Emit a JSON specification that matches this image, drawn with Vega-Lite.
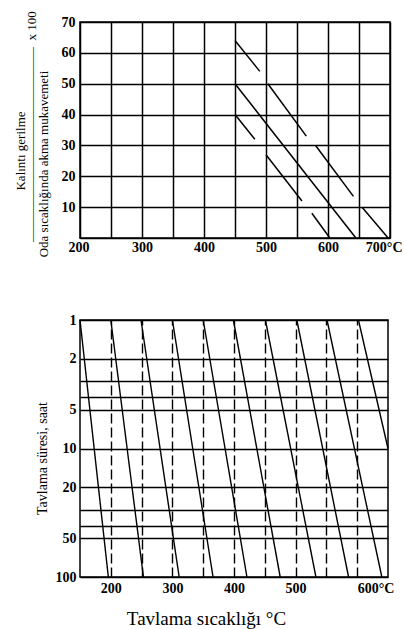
{
  "$schema": "https://vega.github.io/schema/vega-lite/v6.json",
  "background": "white",
  "autosize": {"type": "none"},
  "padding": {"left": 80, "top": 22, "right": 324, "bottom": 607},
  "bounds": "flush",
  "spacing": 82,
  "config": {
    "font": "Liberation Serif",
    "view": {"stroke": "black", "strokeWidth": 1.5},
    "axis": {
      "labelFont": "Liberation Serif",
      "labelFontSize": 14,
      "labelFontWeight": "bold",
      "labelColor": "black",
      "titleColor": "black",
      "titleFont": "Liberation Serif",
      "titleFontWeight": "normal",
      "gridColor": "black",
      "gridOpacity": 1,
      "ticks": false,
      "domain": false,
      "labelOverlap": false
    }
  },
  "datasets": {
    "stress": [
      {"line": "A", "temp": 450, "value": 64},
      {"line": "A", "temp": 490, "value": 54},
      {"line": "B", "temp": 450, "value": 50},
      {"line": "B", "temp": 645, "value": 0},
      {"line": "C", "temp": 503, "value": 50},
      {"line": "C", "temp": 565, "value": 33},
      {"line": "D", "temp": 450, "value": 40},
      {"line": "D", "temp": 482, "value": 32},
      {"line": "E", "temp": 500, "value": 27},
      {"line": "E", "temp": 558, "value": 12},
      {"line": "F", "temp": 580, "value": 30},
      {"line": "F", "temp": 641, "value": 13.5},
      {"line": "G", "temp": 574, "value": 8},
      {"line": "G", "temp": 603, "value": 0},
      {"line": "H", "temp": 655, "value": 10},
      {"line": "H", "temp": 697, "value": 0}
    ],
    "anneal": [
      {"curve": 1, "temp": 150, "hours": 1},
      {"curve": 1, "temp": 196, "hours": 100},
      {"curve": 2, "temp": 200, "hours": 1},
      {"curve": 2, "temp": 253, "hours": 100},
      {"curve": 3, "temp": 249, "hours": 1},
      {"curve": 3, "temp": 311, "hours": 100},
      {"curve": 4, "temp": 300, "hours": 1},
      {"curve": 4, "temp": 366, "hours": 100},
      {"curve": 5, "temp": 350, "hours": 1},
      {"curve": 5, "temp": 421, "hours": 100},
      {"curve": 6, "temp": 399, "hours": 1},
      {"curve": 6, "temp": 475, "hours": 100},
      {"curve": 7, "temp": 451, "hours": 1},
      {"curve": 7, "temp": 533, "hours": 100},
      {"curve": 8, "temp": 502, "hours": 1},
      {"curve": 8, "temp": 586, "hours": 100},
      {"curve": 9, "temp": 551, "hours": 1},
      {"curve": 9, "temp": 640, "hours": 100},
      {"curve": 10, "temp": 602, "hours": 1},
      {"curve": 10, "temp": 650, "hours": 10}
    ]
  },
  "vconcat": [
    {
      "width": 310,
      "height": 216,
      "data": {"name": "stress"},
      "mark": {"type": "line", "color": "black", "strokeWidth": 1.5},
      "encoding": {
        "x": {
          "field": "temp", "type": "quantitative",
          "scale": {"domain": [200, 700], "nice": false, "zero": false},
          "axis": {
            "values": [200, 250, 300, 350, 400, 450, 500, 550, 600, 650, 700],
            "labelExpr": "datum.value % 100 == 0 ? (datum.value == 700 ? '700°C' : datum.label) : ''",
            "labelFlush": true,
            "labelFlushOffset": 12,
            "labelPadding": 2,
            "gridWidth": 1.5,
            "title": null
          }
        },
        "y": {
          "field": "value", "type": "quantitative",
          "scale": {"domain": [0, 70], "nice": false},
          "axis": {
            "values": [0, 10, 20, 30, 40, 50, 60, 70],
            "labelExpr": "datum.value == 0 ? '' : datum.label",
            "labelPadding": 5,
            "labelFlush": false,
            "gridWidth": 1.5,
            "title": [
              "\u200b\u00a0\u00a0\u00a0\u00a0Kalıntı gerilme",
              "\u200b\u00a0\u00a0\u00a0\u00a0\u00a0\u00a0\u00a0\u00a0\u00a0\u00a0\u00a0\u00a0\u00a0\u00a0\u00a0\u00a0\u00a0\u00a0\u00a0———————————————\u00a0\u00a0x 100",
              "Oda sıcaklığında akma mukavemeti\u00a0\u00a0\u00a0\u00a0\u200b"
            ],
            "titleFontSize": 13,
            "titleLineHeight": 11.5,
            "titleAngle": -90,
            "titleAlign": "center",
            "titleBaseline": "alphabetic",
            "titleX": -56,
            "titleY": 135
          }
        },
        "detail": {"field": "line", "type": "nominal"}
      }
    },
    {
      "width": 308,
      "height": 257,
      "data": {"name": "anneal"},
      "mark": {"type": "line", "color": "black", "strokeWidth": 1.4},
      "encoding": {
        "x": {
          "field": "temp", "type": "quantitative",
          "scale": {"domain": [150, 650], "nice": false, "zero": false},
          "axis": {
            "values": [200, 250, 300, 350, 400, 450, 500, 550, 600],
            "labelExpr": "datum.value % 100 == 0 ? (datum.value == 600 ? '600°C' : datum.label) : ''",
            "labelFlush": false,
            "labelAlign": {"condition": {"test": "datum.value == 600", "value": "left"}, "value": "center"},
            "labelPadding": 4,
            "gridWidth": 1.4,
            "gridDash": [10, 4],
            "title": "Tavlama sıcaklığı °C",
            "titleFontSize": 19,
            "titleAngle": 0,
            "titleAlign": "center",
            "titleBaseline": "alphabetic",
            "titleX": 126,
            "titleY": 47
          }
        },
        "y": {
          "field": "hours", "type": "quantitative",
          "scale": {"type": "log", "domain": [1, 100], "nice": false, "reverse": true},
          "axis": {
            "values": [1, 2, 3, 4, 5, 10, 20, 30, 40, 50, 100],
            "labelExpr": "indexof([1, 2, 5, 10, 20, 50, 100], datum.value) >= 0 ? datum.label : ''",
            "labelPadding": 4,
            "labelFlush": false,
            "gridWidth": 1.4,
            "title": "Tavlama süresi, saat",
            "titleFontSize": 14,
            "titleAngle": -90,
            "titleAlign": "center",
            "titleBaseline": "alphabetic",
            "titleX": -34,
            "titleY": 138
          }
        },
        "detail": {"field": "curve", "type": "nominal"}
      }
    }
  ]
}
